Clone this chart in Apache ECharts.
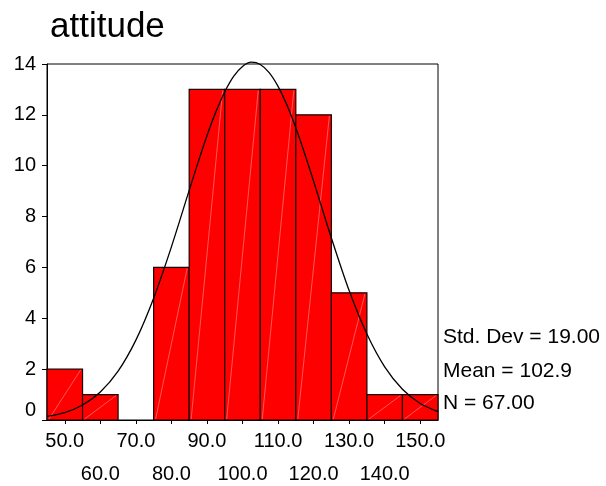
<!DOCTYPE html>
<html>
<head>
<meta charset="utf-8">
<script src="https://cdn.jsdelivr.net/npm/echarts@6/dist/echarts.min.js"></script>
<style>
  html, body { margin: 0; padding: 0; background: #fff; }
  #main { width: 606px; height: 486px; }
</style>
</head>
<body>
<div id="main"></div>
<script>
// histogram bins (centre of each 10-wide bin) and counts
var binCenters = [50, 60, 70, 80, 90, 100, 110, 120, 130, 140, 150];
var binCounts = [2, 1, 0, 6, 13, 13, 13, 12, 5, 1, 1];
var binWidth = 10;

// fitted normal curve
var curveX = [45, 50, 55, 60, 65, 70, 75, 80, 85, 87.5, 90, 92.5, 95, 97.5, 100, 102.5, 105, 107.5, 110, 112.5, 115, 117.5, 120, 125, 130, 135, 140, 145, 150, 155];
var curveY = [0.14, 0.29, 0.59, 1.1, 1.92, 3.14, 4.79, 6.81, 9.03, 10.13, 11.18, 12.11, 12.9, 13.51, 13.9, 14.07, 13.98, 13.66, 13.12, 12.39, 11.49, 10.47, 9.39, 7.16, 5.09, 3.38, 2.09, 1.21, 0.65, 0.33];

var xTicks = [50, 60, 70, 80, 90, 100, 110, 120, 130, 140, 150];
var statLines = ['Std. Dev = 19.00', 'Mean = 102.9', 'N = 67.00'];
var titleText = 'attitude';

var myChart = echarts.init(document.getElementById('main'));

var barData = [];
for (var i = 0; i < binCenters.length; i++) {
    barData.push([binCenters[i] - binWidth / 2, binCenters[i] + binWidth / 2, binCounts[i]]);
}
var lineData = [];
for (var j = 0; j < curveX.length; j++) {
    lineData.push([curveX[j], curveY[j]]);
}

var font = 'Arial, "Liberation Sans", sans-serif';

var option = {
    animation: false,
    backgroundColor: '#fff',
    title: {
        text: titleText,
        left: 45,
        top: 5,
        textStyle: {fontFamily: font, fontSize: 35, fontWeight: 'normal', color: '#000'}
    },
    grid: {
        left: 47, right: 168, top: 64, bottom: 66,
        show: true, borderColor: '#000', borderWidth: 1, backgroundColor: 'transparent'
    },
    xAxis: {
        type: 'value',
        min: 45,
        max: 155,
        splitLine: {show: false},
        axisLine: {show: true, onZero: false, lineStyle: {color: '#000', width: 1}},
        axisTick: {show: true, length: 4, inside: false, customValues: xTicks, lineStyle: {color: '#000'}},
        axisLabel: {
            customValues: xTicks,
            margin: 11,
            hideOverlap: false,
            fontFamily: font,
            fontSize: 20,
            color: '#000',
            formatter: function (v) {
                var s = v.toFixed(1);
                return (v / 10) % 2 === 1 ? '{a|' + s + '}' : '{b|' + s + '}';
            },
            rich: {
                a: {fontFamily: font, fontSize: 20, color: '#000', lineHeight: 20},
                b: {fontFamily: font, fontSize: 20, color: '#000', lineHeight: 86}
            }
        }
    },
    yAxis: {
        type: 'value',
        min: 0,
        max: 14,
        interval: 2,
        splitLine: {show: false},
        axisLine: {show: true, lineStyle: {color: '#000', width: 1}},
        axisTick: {show: true, length: 5, lineStyle: {color: '#000'}},
        axisLabel: {
            margin: 11,
            fontFamily: font,
            fontSize: 20,
            lineHeight: 20,
            color: '#000',
            formatter: function (v) {
                return v === 0 ? '0\n ' : String(v);
            }
        }
    },
    graphic: [
        {type: 'text', left: 443, top: 327, style: {text: statLines[0], font: '21px ' + font, fill: '#000'}},
        {type: 'text', left: 443, top: 361, style: {text: statLines[1], font: '21px ' + font, fill: '#000'}},
        {type: 'text', left: 443, top: 393, style: {text: statLines[2], font: '21px ' + font, fill: '#000'}}
    ],
    series: [
        {
            type: 'custom',
            z: 2,
            data: barData,
            renderItem: function (params, api) {
                var lo = api.value(0), hi = api.value(1), n = api.value(2);
                if (!n) return;
                var p0 = api.coord([lo, n]);
                var p1 = api.coord([hi, 0]);
                return {
                    type: 'group',
                    children: [
                        {
                            type: 'rect',
                            shape: {x: p0[0], y: p0[1], width: p1[0] - p0[0], height: p1[1] - p0[1]},
                            style: {fill: '#ff0000', stroke: '#1a0000', lineWidth: 1.2}
                        },
                        {
                            type: 'line',
                            shape: {x1: p0[0] + 2, y1: p1[1] - 1, x2: p1[0] - 2, y2: p0[1] + 1},
                            style: {stroke: 'rgba(255,200,200,0.55)', lineWidth: 0.8}
                        }
                    ]
                };
            }
        },
        {
            type: 'line',
            z: 5,
            data: lineData,
            smooth: 0.3,
            showSymbol: false,
            symbol: 'none',
            clip: false,
            lineStyle: {color: '#000', width: 1.3}
        }
    ]
};

myChart.setOption(option);
</script>
</body>
</html>
